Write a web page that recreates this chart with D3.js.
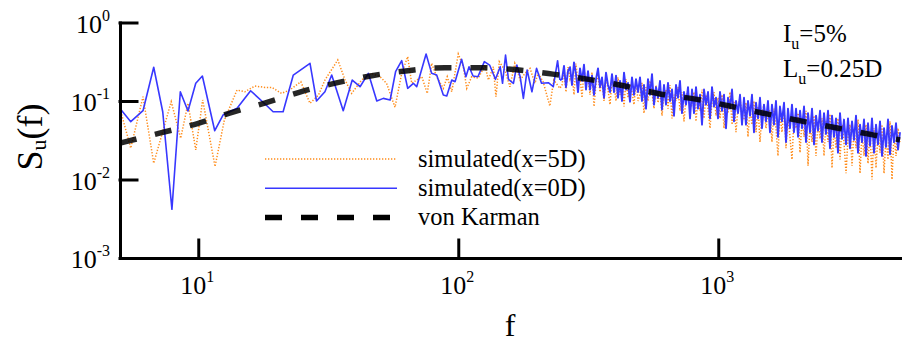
<!DOCTYPE html>
<html><head><meta charset="utf-8">
<script src="https://cdn.jsdelivr.net/npm/d3@7"></script>
<style>
body{margin:0;background:#fff}
svg text{font-family:"Liberation Serif","Times New Roman",Times,serif;fill:#000}
</style>
</head><body><svg id="c" width="903" height="345" font-family="Liberation Serif, Times New Roman, serif"></svg>
<script>
// ---- data ----
const freqLowBlue = [5,5.5,6.13,6.74,7.3,7.92,8.53,9.13,9.78,10.37,11.57,12.45,14.1,15.9,18.06,19.4,21.2,23.2,26.9,28.5,30.7,32.6,36.1,39.1,41.9,45.1,48.6,51.5,54.7,57.4,60.6,63.9,67.2,69.2,75.2,79,82.6,87.6,90.3,94.4,97.2,103,107,110,114,119,126,132,139,145,148,152,156,163,168,173,178,184,192,200,209,222,232,241,246];
const valLowBlue = [0.08,0.0545,0.0752,0.269,0.073,0.00417,0.131,0.0746,0.168,0.208,0.0418,0.0663,0.0807,0.135,0.0916,0.073,0.073,0.214,0.302,0.1,0.131,0.214,0.0752,0.185,0.152,0.225,0.1,0.108,0.103,0.236,0.326,0.145,0.168,0.152,0.397,0.225,0.214,0.119,0.116,0.185,0.176,0.34,0.204,0.273,0.208,0.204,0.317,0.287,0.189,0.273,0.168,0.385,0.189,0.168,0.287,0.204,0.108,0.248,0.131,0.261,0.168,0.171,0.152,0.326,0.185];

const freqLowOrange = [5,5.5,6.13,6.74,7.87,8.56,9.13,9.78,10.4,11.6,12.6,14.1,15.1,16.5,18.06,19.2,20.9,22.5,24.8,26.9,29,30.7,34.4,36.7,38.9,42.5,46.2,50,53,57.1,60.6,63.9,66.2,72.4,76,79,82.6,87.6,90.7,94.4,100,104.6,107.8,112.6,119.4,126.7,130.5,136.4,139.6,143.8,151,158,165,173,180.6,188.8,197,203,212,225,233,246];
const valLowOrange = [0.08,0.0251,0.1135,0.0161,0.098,0.0335,0.0935,0.0238,0.103,0.0146,0.0573,0.138,0.131,0.155,0.149,0.149,0.125,0.138,0.176,0.0935,0.119,0.185,0.333,0.185,0.125,0.185,0.225,0.204,0.168,0.083,0.225,0.367,0.168,0.204,0.125,0.302,0.204,0.145,0.204,0.131,0.397,0.273,0.145,0.204,0.195,0.287,0.185,0.273,0.1135,0.317,0.248,0.152,0.302,0.185,0.225,0.261,0.168,0.225,0.176,0.0863,0.185,0.145];

const freqHigh = [
250.6,255.1,259.6,264.3,269.0,273.8,278.7,283.7,288.7,293.9,299.2,304.5,309.9,
315.5,321.1,326.9,332.7,338.7,344.7,350.9,357.1,363.5,370.0,376.6,383.4,390.2,
397.2,404.3,411.5,418.9,426.4,434.0,441.7,449.6,457.7,465.8,474.2,482.6,491.3,
500,508.9,518.0,527.3,536.7,546.3,556.1,566.0,576.1,586.4,596.9,607.6,618.4,
629.5,640.7,652.2,663.9,675.7,687.8,700.1,712.6,725.3,738.3,751.5,764.9,778.6,
792.5,806.7,821.1,835.7,850.7,865.9,881.4,897.1,913.1,929.5,946.1,962.9,980.2,
997.7,1015.5,1033.7,1052.1,1070.9,1090.1,1109.6,1129.4,1149.6,1170.1,1191.0,1212.3,1234.0,
1256,1278,1301,1325,1348,1372,1397,1422,1447,1473,1499,1526,1553,
1581,1609,1638,1667,1697,1727,1758,1790,1822,1854,1887,1921,1955,
1991,2027,2063,2100,2137,2175,2214,2254,2294,2335,2377,2419,2463,
2506,2551,2596,2643,2690,2738,2787,2837,2887,2939,2992,3045,3100,
3155,3211,3269,3327,3387,3447,3509,3571,3635,3700,3766,3834,3902,
3972,4043,4115,4189,4264,4340,4417,4496,4577,4658,4742,4826,4913,5000];
const valHighBlue = [
0.19,0.28,0.15,0.24,0.27,0.16,0.31,0.22,0.13,0.26,0.18,0.29,0.14,
0.24,0.14,0.21,0.12,0.19,0.26,0.15,0.2,0.11,0.23,0.16,0.13,0.22,
0.13,0.21,0.11,0.18,0.1,0.23,0.14,0.17,0.098,0.2,0.12,0.19,0.13,
0.2,0.1,0.16,0.08,0.19,0.12,0.22,0.09,0.15,0.11,0.18,0.078,0.16,
0.09,0.17,0.1,0.14,0.065,0.16,0.11,0.18,0.07,0.13,0.09,0.15,0.06,
0.14,0.07,0.15,0.08,0.12,0.05,0.14,0.09,0.13,0.06,0.15,0.085,0.11,
0.06,0.13,0.075,0.12,0.045,0.11,0.08,0.14,0.055,0.1,0.07,0.12,0.05,
0.11,0.05,0.1,0.065,0.12,0.04,0.095,0.06,0.11,0.045,0.09,0.055,0.1,
0.04,0.09,0.05,0.1,0.035,0.085,0.055,0.095,0.03,0.08,0.045,0.09,0.04,
0.08,0.035,0.075,0.045,0.085,0.03,0.07,0.04,0.08,0.028,0.065,0.042,0.075,
0.03,0.07,0.038,0.075,0.025,0.065,0.035,0.06,0.022,0.07,0.033,0.058,0.028,
0.06,0.025,0.055,0.032,0.065,0.022,0.05,0.03,0.058,0.02,0.052,0.027,0.06,
0.022,0.05,0.028,0.055,0.02,0.045,0.026,0.058,0.021,0.048,0.03,0.052,0.024,0.04];
const valHighOrange = [
0.16,0.24,0.13,0.27,0.19,0.22,0.12,0.3,0.17,0.21,0.11,0.25,0.18,
0.2,0.12,0.23,0.085,0.17,0.22,0.13,0.19,0.1,0.21,0.14,0.09,0.19,
0.16,0.1,0.2,0.12,0.17,0.085,0.19,0.11,0.16,0.13,0.09,0.18,0.1,
0.12,0.17,0.07,0.15,0.1,0.18,0.13,0.08,0.16,0.095,0.14,0.065,0.12,
0.14,0.08,0.16,0.06,0.12,0.1,0.15,0.075,0.13,0.055,0.11,0.14,0.08,
0.09,0.13,0.055,0.11,0.075,0.14,0.06,0.12,0.08,0.045,0.1,0.13,0.065,
0.11,0.06,0.12,0.045,0.09,0.07,0.13,0.05,0.1,0.04,0.085,0.11,0.06,
0.06,0.095,0.035,0.08,0.05,0.1,0.04,0.085,0.03,0.07,0.09,0.045,0.075,
0.075,0.03,0.08,0.045,0.02,0.07,0.04,0.085,0.025,0.065,0.035,0.018,0.06,
0.045,0.07,0.022,0.06,0.035,0.075,0.015,0.05,0.03,0.065,0.02,0.055,0.033,
0.06,0.02,0.055,0.03,0.068,0.014,0.045,0.025,0.06,0.018,0.05,0.03,0.012,
0.035,0.05,0.015,0.045,0.025,0.058,0.012,0.04,0.02,0.05,0.016,0.042,0.01,
0.045,0.014,0.04,0.022,0.05,0.012,0.035,0.018,0.055,0.01,0.038,0.02,0.045,0.03];

const vkFreq = [5,7.1,10,13.2,18,24.6,34,46.5,64,88.9,121,168,231,313,437,597,828,1129,1552,2119,2890,3935,5000];
const vkVal  = [0.029,0.039,0.052,0.070,0.094,0.13,0.17,0.21,0.243,0.266,0.266,0.25,0.22,0.19,0.155,0.123,0.105,0.085,0.068,0.055,0.045,0.037,0.032];

const yTicks = [1, 0.1, 0.01, 0.001];
const yTickExp = ["0","-1","-2","-3"];
const xTicks = [10, 100, 1000];
const xTickExp = ["1","2","3"];
const legendLabels = ["simulated(x=5D)","simulated(x=0D)","von Karman"];

// ---- drawing ----
const FONT="Liberation Serif, Times New Roman, serif";
const W=903,H=345,L=120,R=900,T=22.5,B=258;
const svg=d3.select("#c");
svg.append("rect").attr("width",W).attr("height",H).attr("fill","#fff");
const x=d3.scaleLog().domain([5,5000]).range([L,R]);
const y=d3.scaleLog().domain([1e-3,1]).range([B,T]);

svg.append("clipPath").attr("id","pc").append("rect")
  .attr("x",L).attr("y",T-5).attr("width",R-L+3).attr("height",B-T+5);

const zip=(fs,vs)=>fs.map((f,i)=>[f,vs[i]]);
const orangeLow=zip(freqLowOrange,valLowOrange), orangeHigh=zip(freqHigh,valHighOrange);
const blueLow=zip(freqLowBlue,valLowBlue), blueHigh=zip(freqHigh,valHighBlue);
const vk=zip(vkFreq,vkVal);

const line=d3.line().x(d=>x(d[0])).y(d=>y(d[1]));
const g=svg.append("g").attr("clip-path","url(#pc)");
const cOrange="#ff8c1a", cBlue="#3838ff";
g.append("path").attr("d",line(orangeLow.concat(orangeHigh))).attr("fill","none")
  .attr("stroke",cOrange).attr("stroke-width",1.5).attr("stroke-dasharray","1.3,1.7");
g.append("path").attr("d",line(blueLow)).attr("fill","none")
  .attr("stroke",cBlue).attr("stroke-width",1.6).attr("stroke-linejoin","round");
g.append("path").attr("d",line([blueLow[blueLow.length-1]].concat(blueHigh))).attr("fill","none")
  .attr("stroke",cBlue).attr("stroke-width",1.9).attr("stroke-linejoin","round");
const vline=d3.line().curve(d3.curveMonotoneX).x(d=>x(d[0])).y(d=>y(d[1]));
g.append("path").attr("d",vline(vk)).attr("fill","none")
  .attr("stroke","#000").attr("stroke-opacity",0.85).attr("stroke-width",5.5).attr("stroke-dasharray","17,19");

// axes
const ya=svg.append("g").attr("transform",`translate(${L},0)`)
  .call(d3.axisLeft(y).tickValues(yTicks).tickSize(-17).tickSizeOuter(0).tickFormat(""));
const xa=svg.append("g").attr("transform",`translate(0,${B})`)
  .call(d3.axisBottom(x).tickValues(xTicks).tickSize(-18).tickSizeOuter(0).tickFormat(""));
[ya,xa].forEach(a=>{a.selectAll("path,line").attr("stroke","#000").attr("stroke-width",3).attr("stroke-linecap","square");});

// tick labels
yTicks.forEach((v,i)=>{
  const t=svg.append("text").attr("font-family",FONT).attr("x",110).attr("y",y(v)+10).attr("text-anchor","end").attr("font-size",26);
  t.append("tspan").text("10");
  t.append("tspan").attr("dy",-12).attr("font-size",16).text(yTickExp[i]);
});
xTicks.forEach((v,i)=>{
  const t=svg.append("text").attr("font-family",FONT).attr("x",x(v)-1).attr("y",294).attr("text-anchor","middle").attr("font-size",26);
  t.append("tspan").text("10");
  t.append("tspan").attr("dy",-12).attr("font-size",16).text(xTickExp[i]);
});

// axis titles
const yt=svg.append("text").attr("font-family",FONT).attr("transform","translate(42,137) rotate(-90)").attr("text-anchor","middle").attr("font-size",36);
yt.append("tspan").text("S");
yt.append("tspan").attr("font-size",22).attr("dy",4).text("u");
yt.append("tspan").attr("dy",-4).text("(f)");
svg.append("text").attr("font-family",FONT).attr("x",510).attr("y",336).attr("text-anchor","middle").attr("font-size",32).text("f");

// annotation
const a1=svg.append("text").attr("font-family",FONT).attr("x",783).attr("y",42).attr("font-size",25);
a1.append("tspan").text("I");
a1.append("tspan").attr("font-size",16).attr("dy",7).text("u");
a1.append("tspan").attr("dy",-7).text("=5%");
const a2=svg.append("text").attr("font-family",FONT).attr("x",783).attr("y",77).attr("font-size",25);
a2.append("tspan").text("L");
a2.append("tspan").attr("font-size",16).attr("dy",7).text("u");
a2.append("tspan").attr("dy",-7).text("=0.25D");

// legend
const leg=[{c:cOrange,w:1.5,d:"1.3,1.7"},{c:cBlue,w:1.6,d:null},{c:"#000",w:5.5,d:"17,19"}];
leg.forEach((s,i)=>{
  const ly=159+29.3*i;
  svg.append("line").attr("x1",265).attr("x2",397).attr("y1",ly).attr("y2",ly)
    .attr("stroke",s.c).attr("stroke-width",s.w).attr("stroke-dasharray",s.d);
  svg.append("text").attr("font-family",FONT).attr("x",418).attr("y",ly+7.5).attr("font-size",24.5).text(legendLabels[i]);
});
</script></body></html>
